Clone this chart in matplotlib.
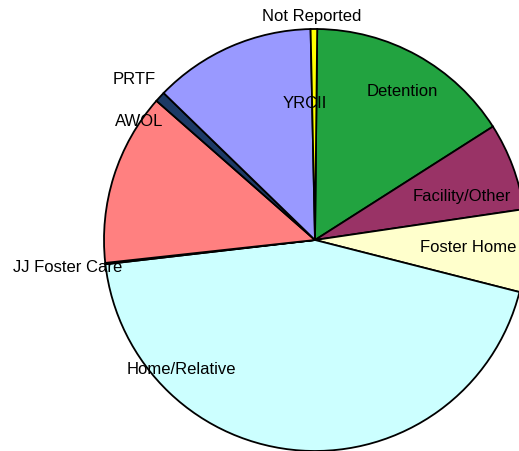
import matplotlib
matplotlib.use("Agg")
import matplotlib.pyplot as plt

# Placement breakdown (percent of youth), listed clockwise from the top
categories = ["Detention", "Facility/Other", "Foster Home", "Home/Relative",
              "JJ Foster Care", "AWOL", "PRTF", "YRCII", "Not Reported"]
shares = [15.8, 6.7, 6.3, 44.2, 0.1, 13.2, 0.8, 12.4, 0.5]
colors = ["#22A340", "#993366", "#FFFFCC", "#CCFFFF", "#CCFFFF",
          "#FF8080", "#1C3A66", "#9999FF", "#FFFF00"]

W, H = 519, 451
fig = plt.figure(figsize=(W / 100, H / 100), dpi=100)
ax = fig.add_axes([0, 0, 1, 1])

cx, cy, r = 315, -240, 211
ax.pie(shares, colors=colors, startangle=89.4, counterclock=False,
       center=(cx, cy), radius=r,
       wedgeprops=dict(edgecolor="black", linewidth=1.3))

ax.set_xlim(0, W)
ax.set_ylim(-H, 0)
ax.set_aspect("equal")
ax.axis("off")

# label anchor points (pixel coordinates, y measured downward)
label_pos = {
    "Not Reported": (312, 16),
    "Detention": (402, 92),
    "Facility/Other": (462, 196),
    "Foster Home": (468, 247),
    "Home/Relative": (181, 369),
    "JJ Foster Care": (68, 268),
    "AWOL": (139, 122),
    "PRTF": (134, 79),
    "YRCII": (305, 104),
}
for name in categories:
    x, y = label_pos[name]
    ax.text(x, -y, name, ha="center", va="center", fontsize=12,
            family="Liberation Sans", color="black")

fig.savefig("out.png", dpi=100)
